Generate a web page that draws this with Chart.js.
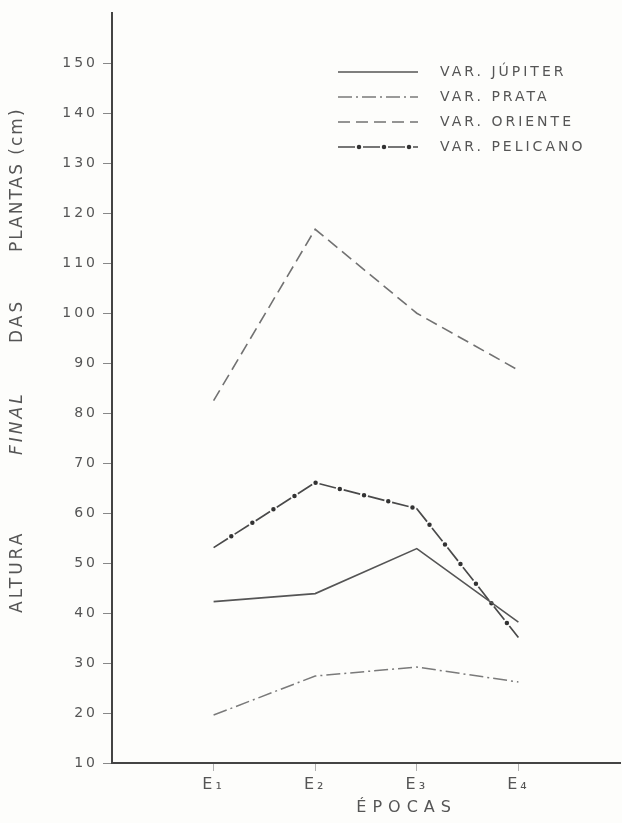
<!DOCTYPE html>
<html>
<head>
<meta charset="utf-8">
<script src="https://cdn.jsdelivr.net/npm/chart.js@4.4.0/dist/chart.umd.min.js"></script>
<style>
	html, body { margin: 0; padding: 0; background: #fdfdfb; }
</style>
</head>
<body>
<canvas id="grafico" width="622" height="823"></canvas>
<script>
(function () {

	'use strict';

	// dados
	var epocas   = ['E\u2081', 'E\u2082', 'E\u2083', 'E\u2084'];
	var jupiter  = [42.3, 43.9, 52.9, 38.2];
	var prata    = [19.6, 27.4, 29.2, 26.2];
	var oriente  = [82.5, 116.8, 100.0, 88.6];
	var pelicano = [53.1, 66.1, 60.9, 35.1];
	var yTicks   = [10, 20, 30, 40, 50, 60, 70, 80, 90, 100, 110, 120, 130, 140, 150];

	// titulo do eixo y, palavra a palavra (a de baixo primeiro)
	var tituloY = [
		{ texto: 'ALTURA', italico: false, inicio: 613, esp: 3 },
		{ texto: 'FINAL', italico: true, inicio: 455, esp: 3 },
		{ texto: 'DAS', italico: false, inicio: 343, esp: 3 },
		{ texto: 'PLANTAS (cm)', italico: false, inicio: 252, esp: 2 }
	];

	var cinza = '#555';

	function pontos(valores) {
		return valores.map(function (v, i) {
			return { x: i + 1, y: v };
		});
	}

	var espacamento = {
		id: 'espacamento',
		beforeLayout: function (chart) { chart.ctx.letterSpacing = '3px'; },
		beforeDraw: function (chart) { chart.ctx.letterSpacing = '3px'; }
	};

	var textos = {
		id: 'textos',
		afterDraw: function (chart) {
			var ctx = chart.ctx;
			var x0 = 338, x1 = 418, y0 = 72, passo = 25;

			// legenda
			chart.data.datasets.forEach(function (ds) {
				var y = y0 + ds.linha * passo;
				ctx.save();
				ctx.strokeStyle = ds.borderColor;
				ctx.lineWidth = ds.borderWidth;
				ctx.lineCap = ds.borderCapStyle || 'butt';
				ctx.setLineDash(ds.borderDash || []);
				ctx.lineDashOffset = ds.borderDashOffset || 0;
				ctx.beginPath();
				ctx.moveTo(x0, y);
				ctx.lineTo(x1, y);
				ctx.stroke();
				if (ds.label) {
					ctx.setLineDash([]);
					ctx.letterSpacing = '3px';
					ctx.fillStyle = cinza;
					ctx.font = '14px "DejaVu Sans"';
					ctx.textBaseline = 'middle';
					ctx.textAlign = 'left';
					ctx.fillText(ds.label, 440, y);
				}
				ctx.restore();
			});

			// titulo do eixo x
			var xs = chart.scales.x;
			ctx.save();
			ctx.letterSpacing = '6px';
			ctx.fillStyle = cinza;
			ctx.font = '16px "DejaVu Sans"';
			ctx.textAlign = 'center';
			ctx.textBaseline = 'middle';
			ctx.fillText('\u00C9POCAS', xs.getPixelForValue(2.87) + 3, 808);
			ctx.restore();

			// titulo do eixo y
			ctx.save();
			ctx.translate(18, 0);
			ctx.rotate(-Math.PI / 2);
			ctx.fillStyle = cinza;
			ctx.textAlign = 'left';
			ctx.textBaseline = 'middle';
			tituloY.forEach(function (p) {
				ctx.letterSpacing = p.esp + 'px';
				ctx.font = (p.italico ? 'italic ' : '') + '17px "DejaVu Sans"';
				ctx.fillText(p.texto, -p.inicio, 0);
			});
			ctx.restore();
		}
	};

	var chart = new Chart(document.getElementById('grafico'), {

		type: 'line',
		data: {
			datasets: [{
				label: 'VAR. J\u00DAPITER',
				linha: 0,
				data: pontos(jupiter),
				borderColor: '#555',
				borderWidth: 1.6
			}, {
				label: 'VAR. PRATA',
				linha: 1,
				data: pontos(prata),
				borderColor: '#7a7a7a',
				borderWidth: 1.5,
				borderDash: [14, 4, 2, 4]
			}, {
				label: 'VAR. ORIENTE',
				linha: 2,
				data: pontos(oriente),
				borderColor: '#727272',
				borderWidth: 1.6,
				borderDash: [12, 6]
			}, {
				label: 'VAR. PELICANO',
				linha: 3,
				data: pontos(pelicano),
				borderColor: '#4a4a4a',
				borderWidth: 1.7,
				borderDash: [17, 8]
			}, {
				label: '',
				linha: 3,
				data: pontos(pelicano),
				borderColor: '#333',
				borderWidth: 4.5,
				borderCapStyle: 'round',
				borderDash: [0, 25],
				borderDashOffset: 4
			}]
		},
		options: {
			responsive: false,
			animation: false,
			layout: { padding: { top: 11, right: 2, left: 0, bottom: 0 } },
			elements: {
				point: { radius: 0, hoverRadius: 0 },
				line: { tension: 0 }
			},
			plugins: {
				legend: { display: false },
				tooltip: { enabled: false }
			},
			scales: {
				x: {
					type: 'linear',
					min: 0,
					max: 5,
					afterBuildTicks: function (s) {
						s.ticks = epocas.map(function (e, i) { return { value: i + 1 }; });
					},
					afterFit: function (s) { s.height = 60; },
					grid: { drawOnChartArea: false, tickLength: 8, color: '#b0b0b0', lineWidth: 1 },
					border: { color: '#444', width: 2 },
					ticks: {
						padding: 4,
						color: cinza,
						font: { family: 'DejaVu Sans', size: 16 },
						callback: function (v) { return epocas[v - 1] || ''; }
					}
				},
				y: {
					min: 10,
					max: 160,
					afterBuildTicks: function (s) {
						s.ticks = yTicks.map(function (v) { return { value: v }; });
					},
					afterFit: function (s) { s.width = 112; },
					grid: { drawOnChartArea: false, tickLength: 9, color: '#888', lineWidth: 1 },
					border: { color: '#444', width: 2 },
					ticks: {
						padding: 5,
						color: cinza,
						font: { family: 'DejaVu Sans', size: 14 }
					}
				}
			}
		},
		plugins: [espacamento, textos]
	});

})();
</script>
</body>
</html>
